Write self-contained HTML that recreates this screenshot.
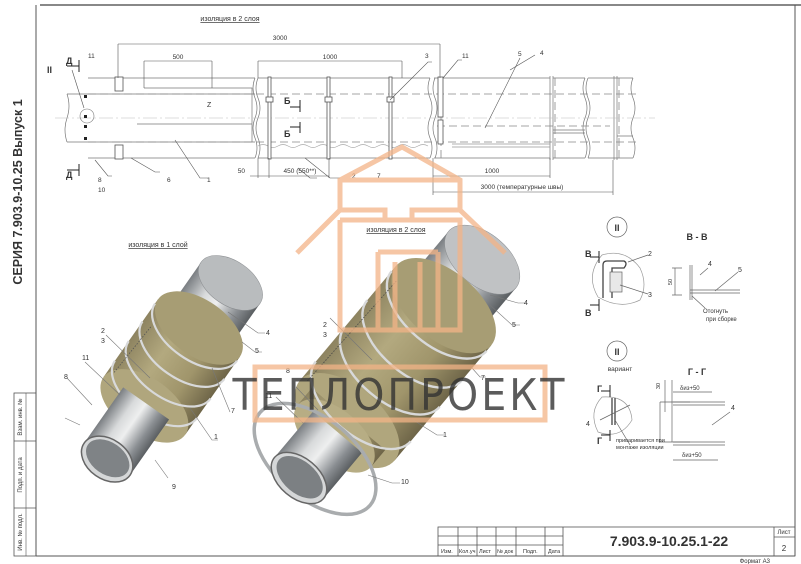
<!DOCTYPE html>
<html><head><meta charset="utf-8"><style>
html,body{margin:0;padding:0;background:#fff}
svg{display:block}
text{font-family:"Liberation Sans",sans-serif;fill:#333}
</style></head><body>
<svg width="801" height="564" viewBox="0 0 801 564" xmlns="http://www.w3.org/2000/svg">
<defs>
<linearGradient id="stv" x1="0" y1="0" x2="0" y2="1">
<stop offset="0" stop-color="#7a7e82"/><stop offset="0.3" stop-color="#d8dadb"/><stop offset="0.5" stop-color="#eeefef"/><stop offset="0.8" stop-color="#8a8e92"/><stop offset="1" stop-color="#5a5e61"/></linearGradient>
<linearGradient id="ins" x1="0" y1="0" x2="0" y2="1">
<stop offset="0" stop-color="#8d8360"/><stop offset="0.35" stop-color="#b3a97f"/><stop offset="0.7" stop-color="#a0956b"/><stop offset="1" stop-color="#6e6548"/></linearGradient>
</defs>

<!-- frame -->
<line x1="40" y1="5" x2="801" y2="5" stroke="#888" stroke-width="2"/>
<line x1="36" y1="5" x2="36" y2="556" stroke="#555" stroke-width="1"/>
<line x1="795" y1="5" x2="795" y2="556" stroke="#555" stroke-width="1"/>
<line x1="36" y1="556" x2="795" y2="556" stroke="#555" stroke-width="1"/>
<rect x="14" y="393" width="22" height="163" fill="none" stroke="#555" stroke-width="0.8"/>
<line x1="26" y1="393" x2="26" y2="556" stroke="#555" stroke-width="0.6"/>
<line x1="14" y1="441" x2="36" y2="441" stroke="#555" stroke-width="0.8"/>
<line x1="14" y1="508" x2="36" y2="508" stroke="#555" stroke-width="0.8"/>
<text transform="translate(22,417) rotate(-90)" font-size="6" text-anchor="middle">Взам. инв. №</text>
<text transform="translate(22,475) rotate(-90)" font-size="6" text-anchor="middle">Подп. и дата</text>
<text transform="translate(22,532) rotate(-90)" font-size="6" text-anchor="middle">Инв. № подл.</text>
<text transform="translate(22,192) rotate(-90)" font-size="12.5" font-weight="bold" text-anchor="middle" fill="#222">СЕРИЯ 7.903.9-10.25 Выпуск 1</text>

<!-- title block -->
<g stroke="#555" stroke-width="0.8" fill="none">
<rect x="438" y="527" width="357" height="29"/>
<line x1="563" y1="527" x2="563" y2="556"/>
<line x1="774" y1="527" x2="774" y2="556"/>
<line x1="774" y1="537" x2="795" y2="537"/>
<line x1="438" y1="536" x2="563" y2="536"/>
<line x1="438" y1="545" x2="563" y2="545"/>
<line x1="458" y1="527" x2="458" y2="556"/><line x1="477" y1="527" x2="477" y2="556"/>
<line x1="496" y1="527" x2="496" y2="556"/><line x1="516" y1="527" x2="516" y2="556"/>
<line x1="545" y1="527" x2="545" y2="556"/>
</g>
<g font-size="5.5"><text x="441" y="553">Изм.</text><text x="459" y="553">Кол.уч</text><text x="479" y="553">Лист</text><text x="497" y="553">№ док</text><text x="523" y="553">Подп.</text><text x="548" y="553">Дата</text></g>
<text x="669" y="546" font-size="14" font-weight="bold" text-anchor="middle" fill="#222">7.903.9-10.25.1-22</text>
<text x="784" y="534" font-size="6" text-anchor="middle">Лист</text>
<text x="784" y="551" font-size="8" text-anchor="middle">2</text>
<text x="770" y="563" font-size="6" text-anchor="end">Формат А3</text>

<!-- TOP DRAWING -->
<text x="230" y="21" font-size="7" text-anchor="middle" text-decoration="underline">изоляция в 2 слоя</text>
<g stroke="#777" stroke-width="0.7" fill="none">
<path d="M67 94 L88 94 M67 142 L88 142"/>
<path d="M67 94 q4 12 0 24 q-4 12 0 24" />
<path d="M88 78 L255 78 M88 158 L255 158 M88 94 L255 94 M88 142 L255 142"/>
<path d="M255 78 q-4 10 0 20 q4 10 0 20 q-4 10 0 20 q4 10 0 20"/>
<path d="M258 78 L430 78 M258 158 L430 158"/>
<path d="M258 78 q-4 10 0 20 q4 10 0 20 q-4 10 0 20 q4 10 0 20"/>
<path d="M430 78 q-4 10 0 20 q4 10 0 20 q-4 10 0 20 q4 10 0 20"/>
<path d="M434 78 L550 78 M434 158 L550 158"/>
<path d="M435 78 q-4 10 0 20 q4 10 0 20 q-4 10 0 20 q4 10 0 20"/>
<path d="M550 76 L550 160 M553 76 L553 160"/>
<path d="M553 78 L585 78 M553 158 L585 158 M588 78 L615 78 M588 158 L615 158 M615 78 L633 78 M615 158 L633 158"/>
<path d="M585 78 q-4 10 0 20 q4 10 0 20 q-4 10 0 20 q4 10 0 20"/>
<path d="M588 78 q-4 10 0 20 q4 10 0 20 q-4 10 0 20 q4 10 0 20"/>
<path d="M614 76 L614 160 M617 76 L617 160"/>
<path d="M633 78 q-4 10 0 20 q4 10 0 20 q-4 10 0 20 q4 10 0 20"/>
<path d="M144 88 L252 88 L252 142 M137 124 L252 124"/>
<path d="M258 146 q5 -3 10 0 t10 0 t10 0 t10 0 t10 0 t10 0 t10 0 t10 0 t10 0 t10 0 t10 0 t10 0 t10 0 t10 0 t10 0 t10 0 t10 0" stroke="#aaa"/>
<path d="M452 144 L550 144 M452 147 L550 147" stroke="#999"/>
<path d="M553 130 L585 130 M553 133 L585 133 M617 136 L633 136"/>
</g>
<g stroke="#888" stroke-width="0.8" stroke-dasharray="8,4" fill="none">
<line x1="88" y1="94" x2="640" y2="94"/><line x1="88" y1="142" x2="640" y2="142"/>
<line x1="437" y1="126" x2="610" y2="126"/>
<line x1="555" y1="78" x2="555" y2="158"/><line x1="619" y1="78" x2="619" y2="158"/>
<line x1="441" y1="78" x2="441" y2="158"/>
</g>
<line x1="55" y1="118" x2="655" y2="118" stroke="#bbb" stroke-width="0.6" stroke-dasharray="14,3,2,3"/>
<g stroke="#555" stroke-width="0.8" fill="#fff">
<rect x="115" y="77" width="8" height="14"/><rect x="115" y="145" width="8" height="14"/>
<rect x="268" y="77" width="3" height="82"/><rect x="327" y="77" width="3" height="82"/><rect x="389" y="77" width="3" height="82"/>
<rect x="266" y="97" width="7" height="5"/><rect x="325" y="97" width="7" height="5"/><rect x="387" y="97" width="7" height="5"/>
<rect x="438" y="77" width="5" height="40"/><rect x="438" y="120" width="5" height="24"/>
</g>
<g fill="#222"><rect x="84" y="95" width="3" height="3"/><rect x="84" y="115" width="3" height="3"/><rect x="84" y="125" width="3" height="3"/><rect x="84" y="137" width="3" height="3"/></g>
<circle cx="87" cy="116" r="7" fill="none" stroke="#777" stroke-width="0.6"/>
<g stroke="#555" stroke-width="0.6" fill="none">
<path d="M118 44 L440 44 M118 44 L118 78 M440 44 L440 78"/>
<path d="M144 61 L212 61 M144 61 L144 88 M212 61 L212 88"/>
<path d="M258 61 L402 61 M258 61 L258 78 M402 61 L402 78"/>
<path d="M258 158 L258 178 M269 158 L269 178 M329 158 L329 178 M250 176 L329 176"/>
<path d="M433 158 L433 195 M550 158 L550 178 M613 160 L613 195 M433 176 L550 176 M433 192 L613 192"/>
<path d="M95 160 L108 176 L112 176"/>
<path d="M131 158 L155 172 L160 172"/>
<path d="M175 140 L200 178 L208 178"/>
<path d="M298 168 L310 178 L317 178"/>
<path d="M305 158 L330 178 L340 178"/>
<path d="M390 100 L428 62 L432 62"/>
<path d="M443 78 L458 60 L462 60"/>
<path d="M485 128 L520 58"/><path d="M510 70 L535 55"/>
<path d="M72 70 L84 108"/>
</g>
<g font-size="6.5">
<text x="280" y="40" text-anchor="middle">3000</text>
<text x="178" y="59" text-anchor="middle">500</text>
<text x="330" y="59" text-anchor="middle">1000</text>
<text x="492" y="173" text-anchor="middle">1000</text>
<text x="522" y="189" text-anchor="middle">3000 (температурные швы)</text>
<text x="300" y="173" text-anchor="middle">450 (550**)</text>
<text x="245" y="173" text-anchor="end">50</text>
<text x="88" y="58">11</text><text x="425" y="58">3</text><text x="462" y="58">11</text>
<text x="518" y="56">5</text><text x="540" y="55">4</text>
<text x="98" y="182">8</text><text x="98" y="192">10</text><text x="167" y="182">6</text><text x="207" y="182">1</text>
<text x="352" y="178">2</text><text x="377" y="178">7</text>
<text x="207" y="107" font-size="7">Z</text>
</g>
<g font-size="9" font-weight="bold" fill="#222">
<text x="47" y="73">II</text><text x="66" y="64">Д</text><text x="66" y="178">Д</text>
<text x="284" y="104">Б</text><text x="284" y="137">Б</text>
</g>
<g stroke="#222" stroke-width="1" fill="none"><path d="M67 66 L79 66 M79 60 L79 72 M67 170 L79 170 M79 164 L79 176 M290 107 L300 107 M300 100 L300 112 M290 127 L300 127 M300 122 L300 133"/></g>

<!-- LEFT 3D PIPE -->
<text x="158" y="247" font-size="7" text-anchor="middle" text-decoration="underline">изоляция в 1 слой</text>
<g transform="translate(110,455) rotate(-55)">
<rect x="110" y="-36" width="100" height="72" fill="url(#stv)"/>
<ellipse cx="210" cy="0" rx="22" ry="36" fill="#b9bcbe" stroke="#8a8d90" stroke-width="0.5"/>
<rect x="60" y="-50" width="95" height="100" fill="url(#ins)"/>
<ellipse cx="155" cy="0" rx="28" ry="50" fill="#a79d74"/>
<ellipse cx="60" cy="0" rx="28" ry="50" fill="#b0a67d"/>
<g fill="none" stroke="#d8d9da" stroke-width="2.2">
<path d="M80 -50 A28 50 0 0 0 80 50"/><path d="M104 -50 A28 50 0 0 0 104 50"/><path d="M128 -50 A28 50 0 0 0 128 50"/><path d="M150 -50 A28 50 0 0 0 150 50"/>
</g>
<rect x="-5" y="-28" width="68" height="56" fill="url(#stv)"/>
<ellipse cx="-5" cy="0" rx="20" ry="28" fill="#d5d7d8" stroke="#666" stroke-width="1.5"/>
<ellipse cx="-4" cy="0" rx="16" ry="24" fill="#7f8386"/>
<line x1="70" y1="-44" x2="130" y2="-40" stroke="#555" stroke-dasharray="1.5,1.5" stroke-width="0.8"/>
</g>
<g stroke="#777" stroke-width="0.6" fill="none">
<path d="M106 335 L150 378"/><path d="M85 362 L120 395"/><path d="M67 378 L92 405"/>
<path d="M228 312 L258 333 L265 333"/><path d="M242 342 L255 352 L262 352"/><path d="M212 368 L230 412"/>
<path d="M190 408 L212 440 L218 440"/><path d="M155 460 L168 478"/>
<path d="M65 418 L80 425"/>
</g>
<g font-size="7">
<text x="101" y="333">2</text><text x="101" y="343">3</text><text x="82" y="360">11</text><text x="64" y="379">8</text>
<text x="266" y="335">4</text><text x="255" y="353">5</text><text x="231" y="413">7</text><text x="214" y="439">1</text><text x="172" y="489">9</text>
</g>

<!-- RIGHT 3D PIPE -->
<g transform="translate(299,478) rotate(-50)">
<rect x="200" y="-44" width="85" height="88" fill="url(#stv)"/>
<ellipse cx="285" cy="0" rx="26" ry="44" fill="#c0c2c4" stroke="#8a8d90" stroke-width="0.5"/>
<rect x="75" y="-62" width="150" height="124" fill="url(#ins)"/>
<ellipse cx="225" cy="0" rx="34" ry="62" fill="#a79d74"/>
<ellipse cx="75" cy="0" rx="34" ry="62" fill="#b0a67d"/>
<rect x="55" y="-48" width="22" height="96" fill="url(#ins)"/>
<ellipse cx="55" cy="0" rx="26" ry="48" fill="#b7ad84"/>
<g fill="none" stroke="#d8d9da" stroke-width="2.4">
<path d="M100 -62 A34 62 0 0 0 100 62"/><path d="M145 -62 A34 62 0 0 0 145 62"/><path d="M180 -62 A34 62 0 0 0 180 62"/><path d="M218 -62 A34 62 0 0 0 218 62"/>
</g>
<rect x="0" y="-32" width="60" height="64" fill="url(#stv)"/>
<ellipse cx="25" cy="0" rx="40" ry="72" fill="none" stroke="#a9acae" stroke-width="3.5"/>
<ellipse cx="0" cy="0" rx="20" ry="32" fill="#d5d7d8" stroke="#666" stroke-width="1.5"/>
<ellipse cx="1" cy="0" rx="16" ry="27" fill="#7c8083"/>
<line x1="80" y1="-56" x2="215" y2="-52" stroke="#444" stroke-dasharray="1.5,1.5" stroke-width="0.8"/>
</g>
<g stroke="#777" stroke-width="0.6" fill="none">
<path d="M330 318 L372 360"/><path d="M296 387 L318 410"/><path d="M276 397 L303 423"/>
<path d="M490 295 L518 303 L525 303"/><path d="M490 305 L512 325 L520 325"/><path d="M472 368 L480 377 L486 377"/>
<path d="M410 418 L437 435 L444 435"/><path d="M368 475 L392 483 L400 483"/>
</g>
<g font-size="7">
<text x="323" y="327">2</text><text x="323" y="337">3</text><text x="265" y="398">11</text><text x="286" y="373">8</text>
<text x="524" y="305">4</text><text x="512" y="327">5</text><text x="481" y="380">7</text><text x="443" y="437">1</text><text x="401" y="484">10</text>
</g>

<!-- RIGHT DETAILS -->
<g stroke="#666" stroke-width="0.7" fill="none">
<circle cx="617" cy="227" r="10"/>
<path d="M602 255 Q585 275 598 297 Q620 310 640 300 Q648 285 640 268 Q625 248 602 255 Z" stroke="#999"/>
<path d="M603 298 L603 265 Q603 261 607 261 L624 261 Q628 263 624 268 L612 268 L612 298" stroke="#444" stroke-width="1.3"/>
<rect x="610" y="272" width="12" height="20" fill="#e8e8e8"/>
<path d="M628 262 L648 255 M620 285 L648 294"/>
<path d="M675 268 L675 295 M672 268 L682 268 M672 295 L682 295"/>
<path d="M690 265 L690 300 M692 265 L692 300 M690 290 L740 290 M690 293 L740 293"/>
<path d="M692 296 L705 308"/><path d="M700 275 L708 268"/><path d="M715 291 L738 272"/>
<circle cx="617" cy="351" r="10"/>
<path d="M602 397 Q588 412 598 432 Q620 440 632 420 Q630 395 602 397 Z" stroke="#999"/>
<path d="M612 398 L612 425 M615 398 L615 425" stroke="#444" stroke-width="1.3"/>
<path d="M600 420 L630 405"/><path d="M615 420 L630 445"/>
<path d="M665 380 L665 412"/>
<path d="M660 402 L690 402 M660 402 L660 442 M660 442 L690 442"/>
<path d="M672 380 L672 442"/>
<path d="M673 402 L725 402 M673 405 L725 405 M673 442 L725 442 M673 445 L725 445"/>
<path d="M673 392 L712 392 M673 460 L718 460"/><path d="M712 425 L730 412"/>
</g>
<g stroke="#222" stroke-width="1" fill="none"><path d="M590 257 L599 257 M599 251 L599 263 M590 305 L599 305 M599 299 L599 311 M601 391 L610 391 M610 385 L610 397 M601 435 L610 435 M610 430 L610 441"/></g>
<g font-size="9" font-weight="bold" fill="#222">
<text x="617" y="231" text-anchor="middle">II</text><text x="617" y="355" text-anchor="middle">II</text>
<text x="697" y="240" text-anchor="middle">В - В</text><text x="697" y="375" text-anchor="middle">Г - Г</text>
<text x="585" y="257">В</text><text x="585" y="316">В</text><text x="597" y="392">Г</text><text x="597" y="444">Г</text>
</g>
<g font-size="7">
<text x="648" y="256">2</text><text x="648" y="297">3</text><text x="708" y="266">4</text><text x="738" y="272">5</text>
<text x="703" y="313" font-size="6">Отогнуть</text><text x="706" y="321" font-size="6">при сборке</text>
<text x="620" y="371" font-size="6.5" text-anchor="middle">вариант</text>
<text x="586" y="426">4</text><text x="731" y="410">4</text>
<text x="680" y="390" font-size="6">δиз+50</text><text x="682" y="457" font-size="6">δиз+50</text>
<text x="616" y="442" font-size="5.5">приваривается при</text><text x="616" y="449" font-size="5.5">монтаже изоляции</text>
</g>
<text transform="translate(672,282) rotate(-90)" font-size="5.5" text-anchor="middle">50</text>
<text transform="translate(660,386) rotate(-90)" font-size="5.5" text-anchor="middle">30</text>

<!-- WATERMARK -->
<g stroke="#f3b487" stroke-width="5" fill="none" opacity="0.75">
<path d="M297 253 L340 210 L340 180 L402 147 L460 180 L460 210 L505 253"/>
<path d="M340 180 L460 180"/>
<path d="M340 210 L385 210 L385 220 M460 210 L412 210 L412 220"/>
<path d="M340 220 L340 330 L460 330 L460 220 L340 220"/>
<path d="M378 252 L378 330 M438 252 L438 330 M378 252 L438 252"/>
<path d="M395 262 L395 330 M420 262 L420 330"/>
<rect x="255" y="367" width="290" height="53"/>
</g>
<text x="400" y="410" font-size="44" text-anchor="middle" fill="#f3b487" opacity="0.8" letter-spacing="3" style="font-family:'DejaVu Sans Condensed','Liberation Sans',sans-serif">ТЕПЛОПРОЕКТ</text>
<text x="396" y="232" font-size="7" text-anchor="middle" text-decoration="underline">изоляция в 2 слоя</text>
</svg>
</body></html>
